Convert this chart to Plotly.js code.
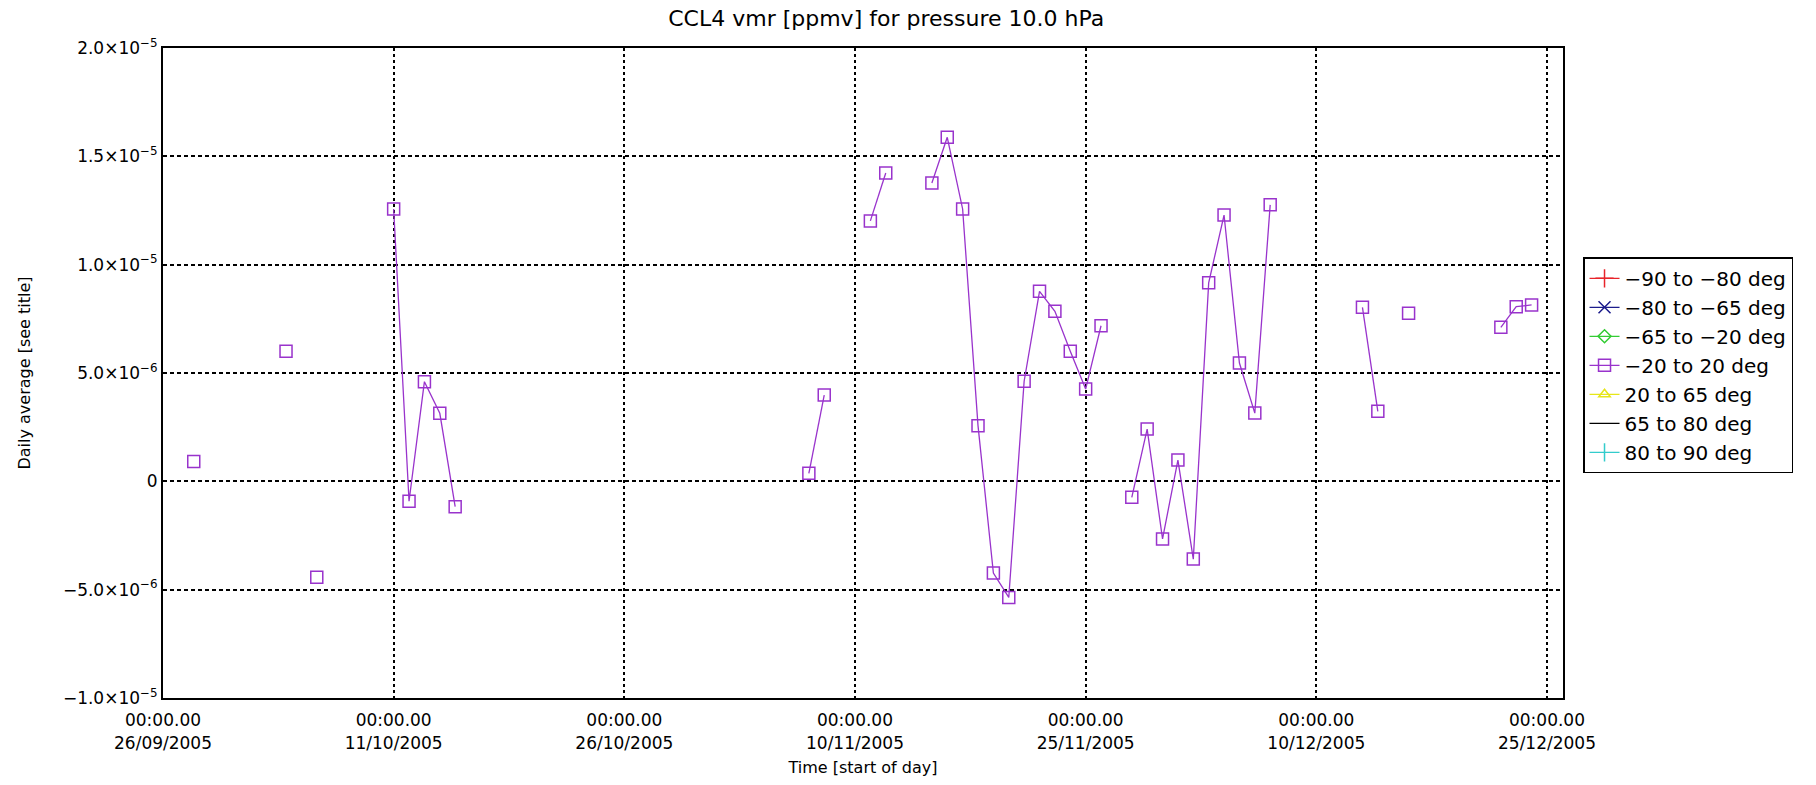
<!DOCTYPE html>
<html>
<head>
<meta charset="utf-8">
<script src="https://cdn.plot.ly/plotly-3.0.1.min.js"></script>
<style>
  html, body { margin: 0; padding: 0; background: #ffffff; }
  #chart { width: 1816px; height: 785px; }
</style>
</head>
<body>
<div id="chart"></div>
<script>
// ---- data (daily averages, CCL4 vmr at 10.0 hPa) ----
const seriesNames = [
  "\u221290 to \u221280 deg",
  "\u221280 to \u221265 deg",
  "\u221265 to \u221220 deg",
  "\u221220 to 20 deg",
  "20 to 65 deg",
  "65 to 80 deg",
  "80 to 90 deg"
];

// Only the -20 to 20 deg band has data; null marks a missing day (breaks the line)
const eqDates = [
  "2005-09-28", "2005-10-01", "2005-10-04", "2005-10-05", "2005-10-06", "2005-10-08",
  "2005-10-11", "2005-10-12", "2005-10-13", "2005-10-14", "2005-10-15", "2005-10-20",
  "2005-11-07", "2005-11-08", "2005-11-09",
  "2005-11-11", "2005-11-12", "2005-11-13",
  "2005-11-15", "2005-11-16", "2005-11-17", "2005-11-18", "2005-11-19", "2005-11-20",
  "2005-11-21", "2005-11-22", "2005-11-23", "2005-11-24", "2005-11-25", "2005-11-26",
  "2005-11-27",
  "2005-11-28", "2005-11-29", "2005-11-30", "2005-12-01", "2005-12-02", "2005-12-03",
  "2005-12-04", "2005-12-05", "2005-12-06", "2005-12-07", "2005-12-08",
  "2005-12-13", "2005-12-14", "2005-12-15", "2005-12-16", "2005-12-17",
  "2005-12-22", "2005-12-23", "2005-12-24"
];
const eqValues = [
  0.92e-6, null, 6.0e-6, null, -4.43e-6, null,
  12.57e-6, -0.92e-6, 4.6e-6, 3.14e-6, -1.17e-6, null,
  0.37e-6, 3.98e-6, null,
  12.02e-6, 14.23e-6, null,
  13.77e-6, 15.88e-6, 12.57e-6, 2.57e-6, -4.23e-6, -5.36e-6,
  4.62e-6, 8.77e-6, 7.85e-6, 6.0e-6, 4.26e-6, 7.18e-6,
  null,
  -0.74e-6, 2.41e-6, -2.66e-6, 0.98e-6, -3.59e-6, 9.16e-6,
  12.29e-6, 5.46e-6, 3.15e-6, 12.76e-6, null,
  8.03e-6, 3.23e-6, null, 7.76e-6, null,
  7.11e-6, 8.06e-6, 8.14e-6
];

// Other latitude bands: no valid data in this period
const noDataDates = [null];
const noDataValues = [null];

// ---- axis ticks ----
const xTickVals = ["2005-09-26", "2005-10-11", "2005-10-26", "2005-11-10", "2005-11-25", "2005-12-10", "2005-12-25"];
const xTickText = [
  "00:00.00<br>26/09/2005", "00:00.00<br>11/10/2005", "00:00.00<br>26/10/2005",
  "00:00.00<br>10/11/2005", "00:00.00<br>25/11/2005", "00:00.00<br>10/12/2005",
  "00:00.00<br>25/12/2005"
];
const yTickVals = [-1.0e-5, -5.0e-6, 0, 5.0e-6, 1.0e-5, 1.5e-5, 2.0e-5];
const yTickText = [
  "\u22121.0\u00d710<sup>\u22125</sup>", "\u22125.0\u00d710<sup>\u22126</sup>", "0",
  "5.0\u00d710<sup>\u22126</sup>", "1.0\u00d710<sup>\u22125</sup>",
  "1.5\u00d710<sup>\u22125</sup>", "2.0\u00d710<sup>\u22125</sup>"
];

// ---- styles ----
const styles = [
  { color: "#e8242a", symbol: "cross-thin-open", size: 13 },
  { color: "#1c1c8c", symbol: "x-thin-open", size: 12 },
  { color: "#33cc33", symbol: "diamond-open", size: 10 },
  { color: "#9933cc", symbol: "square-open", size: 12 },
  { color: "#e6e619", symbol: "triangle-up-open", size: 10 },
  { color: "#000000", symbol: null, size: 0 },
  { color: "#33cccc", symbol: "line-ns-open", size: 13 }
];

const traces = seriesNames.map((name, i) => {
  const s = styles[i];
  const isEq = i === 3;
  const t = {
    type: "scatter",
    name: name,
    x: isEq ? eqDates : noDataDates,
    y: isEq ? eqValues : noDataValues,
    mode: s.symbol ? "lines+markers" : "lines",
    connectgaps: false,
    line: { color: s.color, width: 1.3 },
    hoverinfo: "x+y"
  };
  if (s.symbol) {
    t.marker = { symbol: s.symbol, size: s.size, color: s.color, line: { color: s.color, width: 1.5 } };
  }
  return t;
});

const FONT = "DejaVu Sans, Liberation Sans, sans-serif";

const layout = {
  width: 1816,
  height: 785,
  paper_bgcolor: "#ffffff",
  plot_bgcolor: "#ffffff",
  font: { family: FONT, size: 17, color: "#000000" },
  margin: { l: 163, r: 253, t: 48, b: 87, pad: 0 },
  title: {
    text: "CCL4 vmr [ppmv] for pressure 10.0 hPa",
    font: { family: FONT, size: 22, color: "#000000" },
    x: 0.488, xanchor: "center",
    y: 0.977, yanchor: "middle"
  },
  xaxis: {
    type: "date",
    range: ["2005-09-26", "2005-12-26 01:00"],
    tickmode: "array",
    tickvals: xTickVals,
    ticktext: xTickText,
    tickangle: 0,
    ticks: "outside",
    ticklen: 6,
    tickcolor: "rgba(0,0,0,0)",
    showgrid: true,
    gridcolor: "#000000",
    gridwidth: 1.5,
    griddash: "3px,3px",
    showline: true,
    linecolor: "#000000",
    linewidth: 2,
    mirror: true,
    zeroline: false,
    tickfont: { family: FONT, size: 17, color: "#000000" },
    title: { text: "Time [start of day]", font: { family: FONT, size: 16, color: "#000000" }, standoff: 10 }
  },
  yaxis: {
    range: [-1.0e-5, 2.0e-5],
    tickmode: "array",
    tickvals: yTickVals,
    ticktext: yTickText,
    ticks: "",
    showgrid: true,
    gridcolor: "#000000",
    gridwidth: 1.5,
    griddash: "4px,3px",
    showline: true,
    linecolor: "#000000",
    linewidth: 2,
    mirror: true,
    zeroline: false,
    tickfont: { family: FONT, size: 17, color: "#000000" },
    title: { text: "Daily average [see title]", font: { family: FONT, size: 16, color: "#000000" }, standoff: 28 }
  },
  showlegend: true,
  legend: {
    x: 1.0143, xanchor: "left",
    y: 0.678, yanchor: "top",
    bgcolor: "#ffffff",
    bordercolor: "#000000",
    borderwidth: 1.5,
    font: { family: FONT, size: 20, color: "#000000" },
    itemwidth: 30,
    tracegroupgap: 0
  }
};

Plotly.newPlot("chart", traces, layout, { displayModeBar: false, responsive: false });
</script>
</body>
</html>
